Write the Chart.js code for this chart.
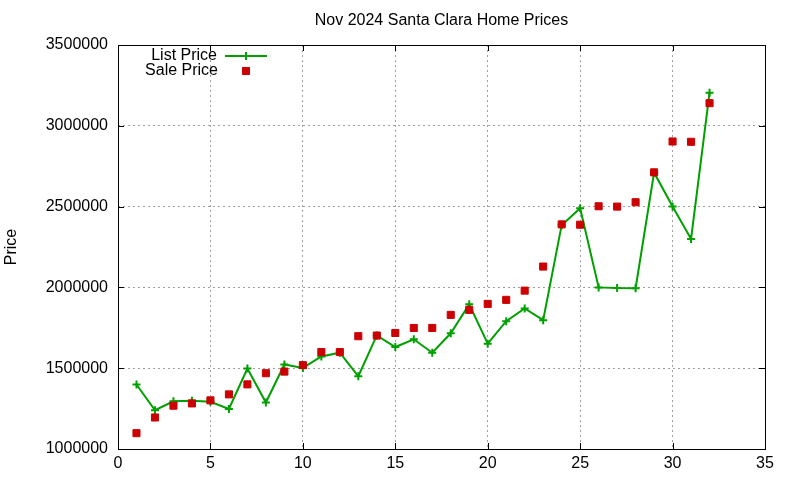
<!DOCTYPE html>
<html>
<head>
<meta charset="utf-8">
<script src="https://cdn.jsdelivr.net/npm/chart.js@4.4.0/dist/chart.umd.min.js"></script>
<style>
  html, body { margin: 0; padding: 0; background: #fff; }
  #wrap { width: 800px; height: 480px; }
</style>
</head>
<body>
<div id="wrap"><canvas id="grafico"></canvas></div>
<script>
// datos
const dias = [1, 2, 3, 4, 5, 6, 7, 8, 9, 10, 11, 12, 13, 14, 15, 16,
  17, 18, 19, 20, 21, 22, 23, 24, 25, 26, 27, 28, 29, 30, 31, 32];
const precioLista = [1399000, 1240000, 1295000, 1299000, 1292000, 1248000, 1498000, 1288000,
  1523000, 1502000, 1573000, 1596000, 1450000, 1703000, 1631000, 1679000,
  1596000, 1716000, 1895000, 1652000, 1791000, 1870000, 1797000, 2385000,
  2490000, 2000000, 1996000, 1995000, 2710000, 2500000, 2300000, 3205000];
const precioVenta = [1098000, 1195000, 1268000, 1282000, 1301000, 1338000, 1400000, 1469000,
  1479000, 1519000, 1600000, 1600000, 1698000, 1702000, 1718000, 1749000,
  1749000, 1830000, 1861000, 1898000, 1923000, 1980000, 2129000, 2390000,
  2388000, 2502000, 2500000, 2527000, 2712000, 2903000, 2901000, 3140000];
const ticksX = [0, 5, 10, 15, 20, 25, 30, 35];
const ticksY = [1000000, 1500000, 2000000, 2500000, 3000000, 3500000];

const verde = '#00a000';
const rojo = '#cc0000';
const fuente = '"Liberation Sans", Arial, sans-serif';

//marcas hacia adentro, marco y leyenda estilo gnuplot
const marcoPlugin = {
  id: 'marco',
  afterDatasetsDraw(chart) {
    const ctx = chart.ctx;
    const a = chart.chartArea;
    const sx = chart.scales.x;
    const sy = chart.scales.y;
    ctx.save();
    ctx.strokeStyle = '#000';
    ctx.lineWidth = 1;
    ctx.beginPath();
    for (let v of ticksX) {
      let px = Math.round(sx.getPixelForValue(v)) + 0.5;
      ctx.moveTo(px, a.bottom); ctx.lineTo(px, a.bottom - 6);
      ctx.moveTo(px, a.top); ctx.lineTo(px, a.top + 6);
    }
    for (let v of ticksY) {
      let py = Math.round(sy.getPixelForValue(v)) + 0.5;
      ctx.moveTo(a.left, py); ctx.lineTo(a.left + 6, py);
      ctx.moveTo(a.right, py); ctx.lineTo(a.right - 6, py);
    }
    ctx.stroke();
    ctx.strokeRect(Math.round(a.left) + 0.5, Math.round(a.top) + 0.5,
      Math.round(a.right - a.left), Math.round(a.bottom - a.top));

    // leyenda
    ctx.font = '16px ' + fuente;
    ctx.fillStyle = '#000';
    ctx.textAlign = 'right';
    ctx.textBaseline = 'middle';
    ctx.fillText('List Price', 217, 56);
    ctx.fillText('Sale Price', 218, 71);
    ctx.strokeStyle = verde;
    ctx.lineWidth = 2;
    ctx.beginPath();
    ctx.moveTo(225, 56); ctx.lineTo(267, 56);
    ctx.stroke();
    Chart.helpers.drawPoint(ctx, { pointStyle: 'cross', radius: 4, borderWidth: 2 }, 246, 56);
    ctx.fillStyle = rojo;
    ctx.strokeStyle = rojo;
    ctx.lineWidth = 1;
    Chart.helpers.drawPoint(ctx, { pointStyle: 'rect', radius: 5, borderWidth: 1 }, 246, 71);
    ctx.restore();
  }
};

const gridOpts = {
  color: '#a0a0a0',
  lineWidth: 1,
  drawTicks: false
};

new Chart(document.getElementById('grafico'), {
  type: 'line',
  data: {
    datasets: [
      {
        label: 'Sale Price',
        type: 'scatter',
        data: dias.map((d, i) => ({ x: d, y: precioVenta[i] })),
        showLine: false,
        pointStyle: 'rect',
        pointRadius: 5,
        pointBorderWidth: 1,
        backgroundColor: rojo,
        borderColor: rojo,
        order: 0
      },
      {
        label: 'List Price',
        data: dias.map((d, i) => ({ x: d, y: precioLista[i] })),
        borderColor: verde,
        backgroundColor: verde,
        borderWidth: 2,
        pointStyle: 'cross',
        pointRadius: 4,
        pointBorderWidth: 2,
        tension: 0,
        fill: false,
        order: 1
      }
    ]
  },
  options: {
    responsive: true,
    maintainAspectRatio: false,
    animation: false,
    events: [],
    layout: { padding: { left: 0, right: 35, top: 0, bottom: 0 } },
    plugins: {
      legend: { display: false },
      tooltip: { enabled: false },
      title: {
        display: true,
        text: 'Nov 2024 Santa Clara Home Prices',
        fullSize: false,
        color: '#000',
        font: { family: fuente, size: 16, weight: 'normal' },
        padding: { top: 11, bottom: 14.8 }
      }
    },
    scales: {
      x: {
        type: 'linear',
        min: 0,
        max: 35,
        afterFit(scale) { scale.height = 31; },
        afterBuildTicks(scale) { scale.ticks = ticksX.map(v => ({ value: v })); },
        ticks: {
          color: '#000',
          padding: 5,
          font: { family: fuente, size: 16 }
        },
        grid: gridOpts,
        border: { display: false, dash: [2, 3] }
      },
      y: {
        type: 'linear',
        min: 1000000,
        max: 3500000,
        afterFit(scale) { scale.width = 118; },
        afterBuildTicks(scale) { scale.ticks = ticksY.map(v => ({ value: v })); },
        ticks: {
          color: '#000',
          padding: 10,
          font: { family: fuente, size: 16 },
          callback: v => String(v)
        },
        title: {
          display: true,
          text: 'Price',
          color: '#000',
          font: { family: fuente, size: 16 },
          padding: { top: 2, bottom: 0 }
        },
        grid: gridOpts,
        border: { display: false, dash: [2, 3] }
      }
    }
  },
  plugins: [marcoPlugin]
});
</script>
</body>
</html>
